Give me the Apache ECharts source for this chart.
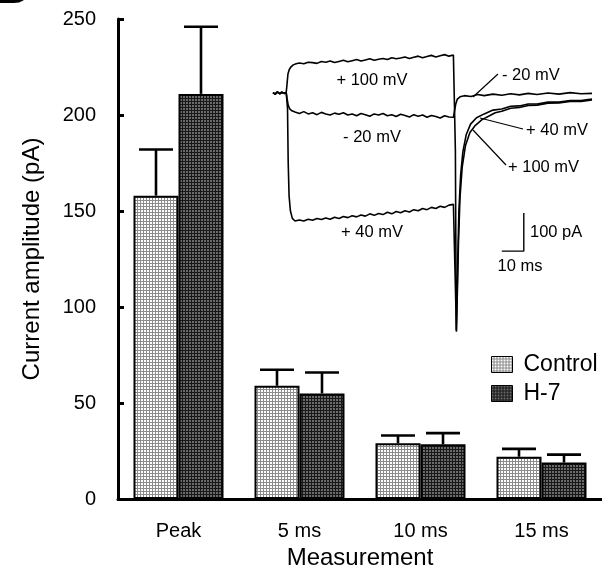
<!DOCTYPE html>
<html>
<head>
<meta charset="utf-8">
<script src="https://cdn.jsdelivr.net/npm/echarts@6/dist/echarts.min.js"></script>
<style>
  html, body { margin: 0; padding: 0; background: #fff; }
  #chart { width: 602px; height: 570px; }
</style>
</head>
<body>
<div id="chart"></div>
<script>
// Mean current amplitude (pA) with SEM, per measurement point
const categories = ['Peak', '5 ms', '10 ms', '15 ms'];
const controlMean = [158, 59, 29, 22];
const controlSem  = [24, 8.3, 4.1, 4.1];
const h7Mean      = [211, 55, 28.5, 19];
const h7Sem       = [35, 10.9, 5.8, 4.1];

// Inset: example current traces, [time ms, current pA]
const baseline = [[0, 1], [1, -3], [2, 3], [3, -2], [4, 2], [5, -1], [6, 1]];
const trace100 = baseline.concat([
  [6.4, 25], [6.8, 50], [7.4, 62], [8.2, 69], [9.2, 74], [10.5, 77],
  [12, 79], [14, 77], [16, 81], [18, 80], [20, 78], [22, 83], [24, 81], [26, 84],
  [28, 80], [30, 83], [32, 86], [34, 82], [36, 85], [38, 88], [40, 84], [42, 87],
  [44, 90], [46, 86], [48, 89], [50, 91], [52, 88], [54, 93], [56, 90], [58, 92],
  [60, 95], [62, 91], [64, 94], [66, 97], [68, 93], [70, 96], [72, 99], [74, 95],
  [76, 98], [78, 101], [80, 97], [82, 100],
  [82.6, 100], [82.9, -150], [83.3, -625], [83.8, -525], [84.3, -395], [85, -275],
  [86, -195], [87.5, -138], [89.5, -104], [92, -85], [95, -70], [98, -61], [101, -52],
  [104, -48], [108, -40], [112, -38], [116, -33], [120, -32], [125, -27], [130, -26],
  [135, -22], [140, -22], [145, -18]
]);
const traceMinus20 = baseline.concat([
  [6.4, -15], [6.9, -32], [7.6, -42], [8.6, -47], [10, -50],
  [12, -54], [14, -49], [16, -55], [18, -52], [20, -57], [22, -51], [24, -55], [26, -58],
  [28, -53], [30, -56], [32, -52], [34, -58], [36, -55], [38, -60], [40, -54], [42, -57],
  [44, -61], [46, -55], [48, -58], [50, -54], [52, -60], [54, -57], [56, -62], [58, -56],
  [60, -59], [62, -63], [64, -57], [66, -61], [68, -58], [70, -64], [72, -59], [74, -62],
  [76, -66], [78, -60], [80, -63], [82, -64],
  [82.7, -62], [83.1, -28], [83.8, -16], [85, -10], [87, -7], [90, -9], [93, -4],
  [96, -7], [100, -3], [104, -6], [108, -2], [112, -5], [116, -1], [120, -4],
  [125, 0], [130, -3], [135, 1], [140, -2], [145, -1]
]);
const trace40 = baseline.concat([
  [6.6, -40], [6.9, -180], [7.3, -270], [7.9, -310], [8.8, -330], [10, -337],
  [12, -334], [14, -337], [16, -332], [18, -335], [20, -330], [22, -333], [24, -329], [26, -332],
  [28, -327], [30, -330], [32, -325], [34, -328], [36, -323], [38, -326], [40, -321], [42, -324],
  [44, -318], [46, -322], [48, -317], [50, -320], [52, -314], [54, -318], [56, -312], [58, -315],
  [60, -310], [62, -313], [64, -307], [66, -310], [68, -304], [70, -307], [72, -301], [74, -304],
  [76, -298], [78, -301], [80, -295], [82, -293],
  [82.8, -292], [83.4, -628], [83.9, -460], [84.5, -310], [85.3, -215], [86.3, -155],
  [87.8, -110], [89.8, -82], [92.5, -65], [96, -55], [100, -45], [104, -42], [108, -35],
  [112, -34], [116, -29], [120, -29], [125, -24], [130, -24], [135, -20], [140, -20], [145, -16]
]);
// Scale bar: 10 ms horizontal, 100 pA vertical
const scaleBar = [[104, -416], [114, -416], [114, -316]];

const BAR_W = 45;
const CAP_W = 34;
const FONT = '"Liberation Sans", Arial, Helvetica, sans-serif';

// Stippled fills for the two groups
function makePattern(dark, light, lightSize) {
  const c = document.createElement('canvas');
  c.width = 3; c.height = 3;
  const g = c.getContext('2d');
  g.fillStyle = dark; g.fillRect(0, 0, 3, 3);
  g.fillStyle = light; g.fillRect(0, 0, lightSize, lightSize);
  return c;
}
const controlFill = { image: makePattern('#8c8c8c', '#ffffff', 2), repeat: 'repeat' };
const h7Fill = { image: makePattern('#181818', '#6a6a6a', 2), repeat: 'repeat' };

function errorSeries(name, means, sems, side) {
  return {
    type: 'custom',
    name: name + ' SEM',
    xAxisIndex: 0, yAxisIndex: 0,
    data: means.map((m, i) => [i, m, m + sems[i]]),
    encode: { x: 0, y: [1, 2] },
    z: 4,
    silent: true,
    renderItem(params, api) {
      const base = api.coord([api.value(0), api.value(1)]);
      const top = api.coord([api.value(0), api.value(2)]);
      const x = base[0] + side * BAR_W / 2;
      const st = { stroke: '#000', lineWidth: 2.6 };
      return {
        type: 'group',
        children: [
          { type: 'line', shape: { x1: x, y1: base[1], x2: x, y2: top[1] }, style: st },
          { type: 'line', shape: { x1: x - CAP_W / 2, y1: top[1], x2: x + CAP_W / 2, y2: top[1] }, style: st }
        ]
      };
    }
  };
}

function traceSeries(data) {
  return {
    type: 'line', xAxisIndex: 1, yAxisIndex: 1, data: data,
    showSymbol: false, silent: true, z: 5,
    lineStyle: { color: '#000', width: 1.6 }
  };
}

const textStyle = (x, y, text, align) => ({
  type: 'text', x: x, y: y, silent: true, z: 10,
  style: { text: text, font: '16.5px ' + FONT, fill: '#000', align: align || 'center', verticalAlign: 'middle' }
});
const leader = (x1, y1, x2, y2) => ({
  type: 'line', silent: true, z: 10,
  shape: { x1: x1, y1: y1, x2: x2, y2: y2 },
  style: { stroke: '#000', lineWidth: 1.2 }
});

const chart = echarts.init(document.getElementById('chart'));
chart.setOption({
  animation: false,
  backgroundColor: '#fff',
  textStyle: { fontFamily: FONT, color: '#000' },
  grid: [
    { left: 118, right: 0, top: 19, bottom: 71, outerBoundsMode: 'none', containLabel: false },
    { left: 273, top: 36, width: 319, height: 296.4, outerBoundsMode: 'none', containLabel: false }
  ],
  legend: {
    data: ['Control', 'H-7'],
    orient: 'vertical',
    left: 486, top: 348,
    icon: 'rect',
    itemWidth: 21, itemHeight: 16, itemGap: 6,
    itemStyle: { borderWidth: 1, borderColor: '#000' },
    textStyle: { fontSize: 23, color: '#000', fontFamily: FONT, padding: [0, 0, 0, 6] }
  },
  xAxis: [
    {
      type: 'category', gridIndex: 0, data: categories,
      name: 'Measurement', nameLocation: 'middle', nameGap: 42,
      nameTextStyle: { fontSize: 24, color: '#000', fontFamily: FONT },
      axisLine: { lineStyle: { color: '#000', width: 3 } },
      axisTick: { show: false },
      axisLabel: { fontSize: 20, color: '#000', margin: 22, fontFamily: FONT }
    },
    { type: 'value', gridIndex: 1, min: 0, max: 145, show: false }
  ],
  yAxis: [
    {
      type: 'value', gridIndex: 0, min: 0, max: 250, interval: 50,
      name: 'Current amplitude (pA)', nameLocation: 'middle', nameGap: 74,
      nameTextStyle: { fontSize: 24, color: '#000', fontFamily: FONT },
      axisLine: { show: true, lineStyle: { color: '#000', width: 3 } },
      axisTick: { show: true, inside: true, length: 6, lineStyle: { color: '#000', width: 3 } },
      axisLabel: { fontSize: 20, color: '#000', margin: 22, fontFamily: FONT },
      splitLine: { show: false }
    },
    { type: 'value', gridIndex: 1, min: -630, max: 150, show: false }
  ],
  series: [
    {
      name: 'Control', type: 'bar', xAxisIndex: 0, yAxisIndex: 0,
      data: controlMean, barWidth: BAR_W, barGap: '0%',
      itemStyle: { color: controlFill, borderColor: '#000', borderWidth: 2 }
    },
    {
      name: 'H-7', type: 'bar', xAxisIndex: 0, yAxisIndex: 0,
      data: h7Mean, barWidth: BAR_W, barGap: '0%',
      itemStyle: { color: h7Fill, borderColor: '#000', borderWidth: 2 }
    },
    errorSeries('Control', controlMean, controlSem, -1),
    errorSeries('H-7', h7Mean, h7Sem, 1),
    traceSeries(trace100),
    traceSeries(traceMinus20),
    traceSeries(trace40),
    {
      type: 'line', xAxisIndex: 1, yAxisIndex: 1, data: scaleBar,
      showSymbol: false, silent: true, z: 5,
      lineStyle: { color: '#000', width: 1.4 }
    }
  ],
  graphic: [
    // panel letter, cut by the top edge
    { type: 'text', x: -5, y: 13, silent: true,
      style: { text: 'B', font: 'bold 46px ' + FONT, fill: '#000', verticalAlign: 'bottom' } },
    textStyle(372, 80, '+ 100 mV'),
    textStyle(372, 137, '- 20 mV'),
    textStyle(372, 232, '+ 40 mV'),
    textStyle(502, 75, '- 20 mV', 'left'),
    textStyle(526, 130, '+ 40 mV', 'left'),
    textStyle(508, 167, '+ 100 mV', 'left'),
    leader(498, 74, 473, 97),
    leader(523, 129, 480, 118),
    leader(506, 165, 473, 130),
    textStyle(530, 232, '100 pA', 'left'),
    textStyle(520, 266, '10 ms')
  ]
});
</script>
</body>
</html>
